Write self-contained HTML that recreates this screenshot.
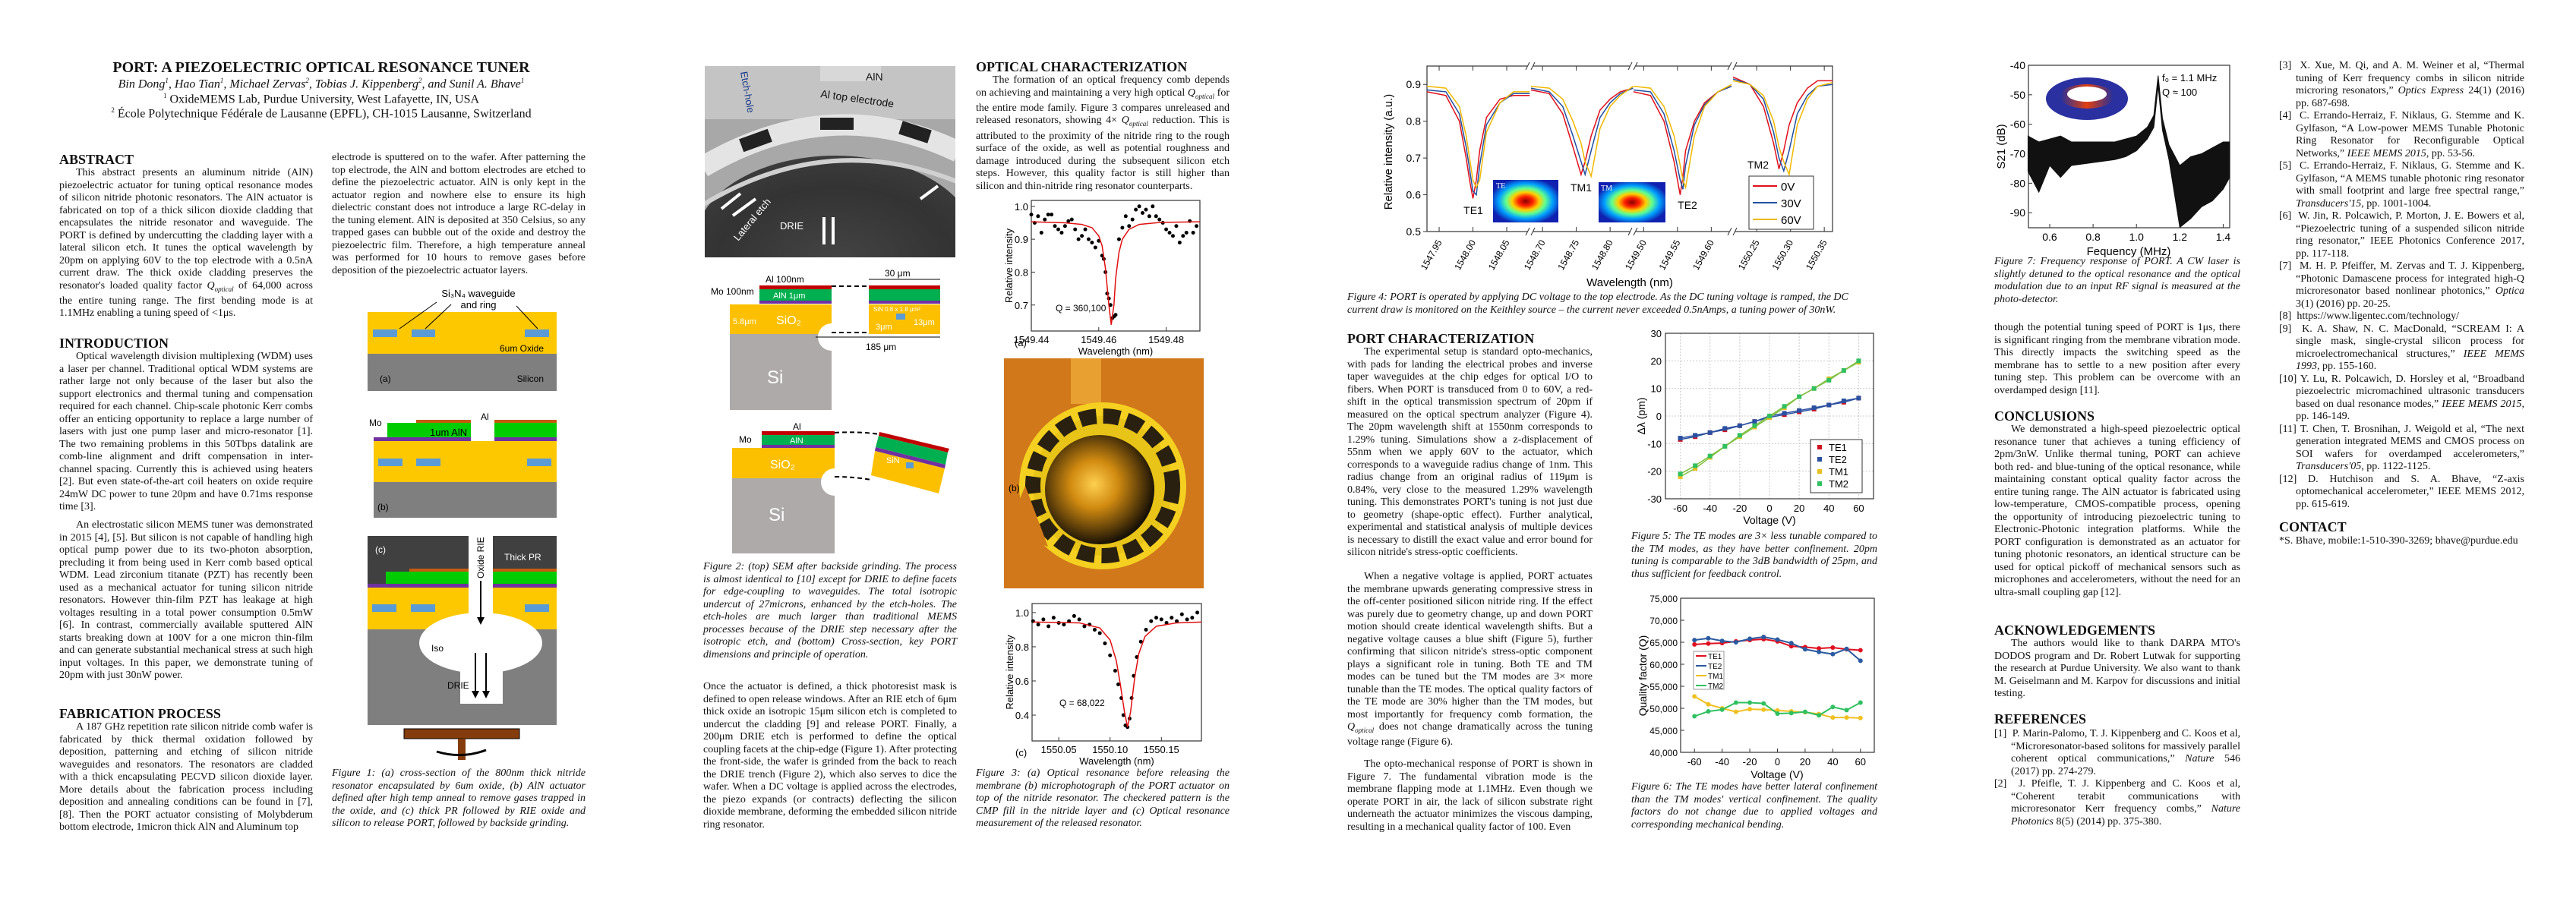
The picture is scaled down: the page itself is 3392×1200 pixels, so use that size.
<!DOCTYPE html>
<html><head><meta charset="utf-8">
<style>
html,body{margin:0;padding:0;background:#fff;}
body{width:3392px;height:1200px;position:relative;overflow:hidden;font-family:"Liberation Serif",serif;color:#111;}
.t{position:absolute;font-size:14px;line-height:16.5px;text-align:justify;}
.t p{margin:0;text-indent:22px;}
.t p.ref{margin:0;padding-left:22px;text-indent:-22px;}
.h{position:absolute;font-size:18px;font-weight:bold;line-height:20px;white-space:nowrap;}
.cap{position:absolute;font-size:14px;line-height:16.5px;font-style:italic;text-align:justify;}
svg{position:absolute;left:0;top:0;}
</style></head>
<body>
<div style="position:absolute;left:78px;width:690px;top:78px;text-align:center;font-size:20px;font-weight:bold;">PORT: A PIEZOELECTRIC OPTICAL RESONANCE TUNER</div>
<div style="position:absolute;left:78px;width:690px;top:101px;text-align:center;font-size:16px;font-style:italic;">Bin Dong<sup style="font-size:9px">1</sup>, Hao Tian<sup style="font-size:9px">1</sup>, Michael Zervas<sup style="font-size:9px">2</sup>, Tobias J. Kippenberg<sup style="font-size:9px">2</sup>, and Sunil A. Bhave<sup style="font-size:9px">1</sup></div>
<div style="position:absolute;left:78px;width:690px;top:121px;text-align:center;font-size:16px;"><sup style="font-size:9px">1</sup> OxideMEMS Lab, Purdue University, West Lafayette, IN, USA</div>
<div style="position:absolute;left:78px;width:690px;top:140px;text-align:center;font-size:16px;"><sup style="font-size:9px">2</sup> École Polytechnique Fédérale de Lausanne (EPFL), CH-1015 Lausanne, Switzerland</div>

<div class="h" style="left:78px;top:200px;">ABSTRACT</div>
<div class="t" style="left:78px;top:220px;width:334px;"><p>This abstract presents an aluminum nitride (AlN) piezoelectric actuator for tuning optical resonance modes of silicon nitride photonic resonators. The AlN actuator is fabricated on top of a thick silicon dioxide cladding that encapsulates the nitride resonator and waveguide. The PORT is defined by undercutting the cladding layer with a lateral silicon etch. It tunes the optical wavelength by 20pm on applying 60V to the top electrode with a 0.5nA current draw. The thick oxide cladding preserves the resonator's loaded quality factor <i>Q<sub style="font-size:9px">optical</sub></i> of 64,000 across the entire tuning range. The first bending mode is at 1.1MHz enabling a tuning speed of &lt;1μs.</p></div>

<div class="h" style="left:78px;top:442px;">INTRODUCTION</div>
<div class="t" style="left:78px;top:462px;width:334px;"><p>Optical wavelength division multiplexing (WDM) uses a laser per channel. Traditional optical WDM systems are rather large not only because of the laser but also the support electronics and thermal tuning and compensation required for each channel. Chip-scale photonic Kerr combs offer an enticing opportunity to replace a large number of lasers with just one pump laser and micro-resonator [1]. The two remaining problems in this 50Tbps datalink are comb-line alignment and drift compensation in inter-channel spacing. Currently this is achieved using heaters [2]. But even state-of-the-art coil heaters on oxide require 24mW DC power to tune 20pm and have 0.71ms response time [3].</p></div>
<div class="t" style="left:78px;top:684px;width:334px;"><p>An electrostatic silicon MEMS tuner was demonstrated in 2015 [4], [5]. But silicon is not capable of handling high optical pump power due to its two-photon absorption, precluding it from being used in Kerr comb based optical WDM. Lead zirconium titanate (PZT) has recently been used as a mechanical actuator for tuning silicon nitride resonators. However thin-film PZT has leakage at high voltages resulting in a total power consumption 0.5mW [6]. In contrast, commercially available sputtered AlN starts breaking down at 100V for a one micron thin-film and can generate substantial mechanical stress at such high input voltages. In this paper, we demonstrate tuning of 20pm with just 30nW power.</p></div>
<div class="h" style="left:78px;top:930px;">FABRICATION PROCESS</div>
<div class="t" style="left:78px;top:950px;width:334px;"><p>A 187 GHz repetition rate silicon nitride comb wafer is fabricated by thick thermal oxidation followed by deposition, patterning and etching of silicon nitride waveguides and resonators. The resonators are cladded with a thick encapsulating PECVD silicon dioxide layer. More details about the fabrication process including deposition and annealing conditions can be found in [7], [8]. Then the PORT actuator consisting of Molybderum bottom electrode, 1micron thick AlN and Aluminum top</p></div>

<div class="t" style="left:437px;top:200px;width:334px;"><p style="text-indent:0">electrode is sputtered on to the wafer. After patterning the top electrode, the AlN and bottom electrodes are etched to define the piezoelectric actuator. AlN is only kept in the actuator region and nowhere else to ensure its high dielectric constant does not introduce a large RC-delay in the tuning element. AlN is deposited at 350 Celsius, so any trapped gases can bubble out of the oxide and destroy the piezoelectric film. Therefore, a high temperature anneal was performed for 10 hours to remove gases before deposition of the piezoelectric actuator layers.</p></div>
<div class="cap" style="left:437px;top:1011px;width:334px;">Figure 1: (a) cross-section of the 800nm thick nitride resonator encapsulated by 6um oxide, (b) AlN actuator defined after high temp anneal to remove gases trapped in the oxide, and (c) thick PR followed by RIE oxide and silicon to release PORT, followed by backside grinding.</div>

<div class="cap" style="left:926px;top:739px;width:334px;">Figure 2: (top) SEM after backside grinding. The process is almost identical to [10] except for DRIE to define facets for edge-coupling to waveguides. The total isotropic undercut of 27microns, enhanced by the etch-holes. The etch-holes are much larger than traditional MEMS processes because of the DRIE step necessary after the isotropic etch, and (bottom) Cross-section, key PORT dimensions and principle of operation.</div>
<div class="t" style="left:926px;top:897px;width:334px;"><p style="text-indent:0">Once the actuator is defined, a thick photoresist mask is defined to open release windows. After an RIE etch of 6μm thick oxide an isotropic 15μm silicon etch is completed to undercut the cladding [9] and release PORT. Finally, a 200μm DRIE etch is performed to define the optical coupling facets at the chip-edge (Figure 1). After protecting the front-side, the wafer is grinded from the back to reach the DRIE trench (Figure 2), which also serves to dice the wafer. When a DC voltage is applied across the electrodes, the piezo expands (or contracts) deflecting the silicon dioxide membrane, deforming the embedded silicon nitride ring resonator.</p></div>

<div class="h" style="left:1285px;top:78px;">OPTICAL CHARACTERIZATION</div>
<div class="t" style="left:1285px;top:98px;width:334px;"><p>The formation of an optical frequency comb depends on achieving and maintaining a very high optical <i>Q<sub style="font-size:9px">optical</sub></i> for the entire mode family. Figure 3 compares unreleased and released resonators, showing 4× <i>Q<sub style="font-size:9px">optical</sub></i> reduction. This is attributed to the proximity of the nitride ring to the rough surface of the oxide, as well as potential roughness and damage introduced during the subsequent silicon etch steps. However, this quality factor is still higher than silicon and thin-nitride ring resonator counterparts.</p></div>
<div class="cap" style="left:1285px;top:1011px;width:334px;">Figure 3: (a) Optical resonance before releasing the membrane (b) microphotograph of the PORT actuator on top of the nitride resonator. The checkered pattern is the CMP fill in the nitride layer and (c) Optical resonance measurement of the released resonator.</div>

<div class="cap" style="left:1774px;top:384px;width:700px;text-align:left;">Figure 4: PORT is operated by applying DC voltage to the top electrode. As the DC tuning voltage is ramped, the DC current draw is monitored on the Keithley source – the current never exceeded 0.5nAmps, a tuning power of 30nW.</div>
<div class="h" style="left:1774px;top:436px;">PORT CHARACTERIZATION</div>
<div class="t" style="left:1774px;top:456px;width:323px;"><p>The experimental setup is standard opto-mechanics, with pads for landing the electrical probes and inverse taper waveguides at the chip edges for optical I/O to fibers. When PORT is transduced from 0 to 60V, a red-shift in the optical transmission spectrum of 20pm if measured on the optical spectrum analyzer (Figure 4). The 20pm wavelength shift at 1550nm corresponds to 1.29% tuning. Simulations show a z-displacement of 55nm when we apply 60V to the actuator, which corresponds to a waveguide radius change of 1nm. This radius change from an original radius of 119μm is 0.84%, very close to the measured 1.29% wavelength tuning. This demonstrates PORT's tuning is not just due to geometry (shape-optic effect). Further analytical, experimental and statistical analysis of multiple devices is necessary to distill the exact value and error bound for silicon nitride's stress-optic coefficients.</p></div>
<div class="t" style="left:1774px;top:752px;width:323px;"><p>When a negative voltage is applied, PORT actuates the membrane upwards generating compressive stress in the off-center positioned silicon nitride ring. If the effect was purely due to geometry change, up and down PORT motion should create identical wavelength shifts. But a negative voltage causes a blue shift (Figure 5), further confirming that silicon nitride's stress-optic component plays a significant role in tuning. Both TE and TM modes can be tuned but the TM modes are 3× more tunable than the TE modes. The optical quality factors of the TE mode are 30% higher than the TM modes, but most importantly for frequency comb formation, the <i>Q<sub style="font-size:9px">optical</sub></i> does not change dramatically across the tuning voltage range (Figure 6).</p></div>
<div class="t" style="left:1774px;top:999px;width:323px;"><p>The opto-mechanical response of PORT is shown in Figure 7. The fundamental vibration mode is the membrane flapping mode at 1.1MHz. Even though we operate PORT in air, the lack of silicon substrate right underneath the actuator minimizes the viscous damping, resulting in a mechanical quality factor of 100. Even</p></div>
<div class="cap" style="left:2148px;top:699px;width:324px;">Figure 5: The TE modes are 3× less tunable compared to the TM modes, as they have better confinement. 20pm tuning is comparable to the 3dB bandwidth of 25pm, and thus sufficient for feedback control.</div>
<div class="cap" style="left:2148px;top:1029px;width:324px;">Figure 6: The TE modes have better lateral confinement than the TM modes' vertical confinement. The quality factors do not change due to applied voltages and corresponding mechanical bending.</div>

<div class="cap" style="left:2626px;top:337px;width:324px;">Figure 7: Frequency response of PORT. A CW laser is slightly detuned to the optical resonance and the optical modulation due to an input RF signal is measured at the photo-detector.</div>
<div class="t" style="left:2626px;top:424px;width:324px;"><p style="text-indent:0">though the potential tuning speed of PORT is 1μs, there is significant ringing from the membrane vibration mode. This directly impacts the switching speed as the membrane has to settle to a new position after every tuning step. This problem can be overcome with an overdamped design [11].</p></div>
<div class="h" style="left:2626px;top:538px;">CONCLUSIONS</div>
<div class="t" style="left:2626px;top:558px;width:324px;"><p>We demonstrated a high-speed piezoelectric optical resonance tuner that achieves a tuning efficiency of 2pm/3nW. Unlike thermal tuning, PORT can achieve both red- and blue-tuning of the optical resonance, while maintaining constant optical quality factor across the entire tuning range. The AlN actuator is fabricated using low-temperature, CMOS-compatible process, opening the opportunity of introducing piezoelectric tuning to Electronic-Photonic integration platforms. While the PORT configuration is demonstrated as an actuator for tuning photonic resonators, an identical structure can be used for optical pickoff of mechanical sensors such as microphones and accelerometers, without the need for an ultra-small coupling gap [12].</p></div>
<div class="h" style="left:2626px;top:820px;">ACKNOWLEDGEMENTS</div>
<div class="t" style="left:2626px;top:840px;width:324px;"><p>The authors would like to thank DARPA MTO's DODOS program and Dr. Robert Lutwak for supporting the research at Purdue University. We also want to thank M. Geiselmann and M. Karpov for discussions and initial testing.</p></div>
<div class="h" style="left:2626px;top:937px;">REFERENCES</div>
<div class="t" style="left:2626px;top:959px;width:324px;">
<p class="ref">[1]&nbsp; P. Marin-Palomo, T. J. Kippenberg and C. Koos et al, “Microresonator-based solitons for massively parallel coherent optical communications,” <i>Nature</i> 546 (2017) pp. 274-279.</p>
<p class="ref">[2]&nbsp; J. Pfeifle, T. J. Kippenberg and C. Koos et al, “Coherent terabit communications with microresonator Kerr frequency combs,” <i>Nature Photonics</i> 8(5) (2014) pp. 375-380.</p></div>
<div class="t" style="left:3001px;top:79px;width:323px;">
<p class="ref">[3]&nbsp; X. Xue, M. Qi, and A. M. Weiner et al, “Thermal tuning of Kerr frequency combs in silicon nitride microring resonators,” <i>Optics Express</i> 24(1) (2016) pp. 687-698.</p>
<p class="ref">[4]&nbsp; C. Errando-Herraiz, F. Niklaus, G. Stemme and K. Gylfason, “A Low-power MEMS Tunable Photonic Ring Resonator for Reconfigurable Optical Networks,” <i>IEEE MEMS 2015</i>, pp. 53-56.</p>
<p class="ref">[5]&nbsp; C. Errando-Herraiz, F. Niklaus, G. Stemme and K. Gylfason, “A MEMS tunable photonic ring resonator with small footprint and large free spectral range,” <i>Transducers'15</i>, pp. 1001-1004.</p>
<p class="ref">[6]&nbsp; W. Jin, R. Polcawich, P. Morton, J. E. Bowers et al, “Piezoelectric tuning of a suspended silicon nitride ring resonator,” IEEE Photonics Conference 2017, pp. 117-118.</p>
<p class="ref">[7]&nbsp; M. H. P. Pfeiffer, M. Zervas and T. J. Kippenberg, “Photonic Damascene process for integrated high-Q microresonator based nonlinear photonics,” <i>Optica</i> 3(1) (2016) pp. 20-25.</p>
<p class="ref">[8]&nbsp; https://www.ligentec.com/technology/</p>
<p class="ref">[9]&nbsp; K. A. Shaw, N. C. MacDonald, “SCREAM I: A single mask, single-crystal silicon process for microelectromechanical structures,” <i>IEEE MEMS 1993</i>, pp. 155-160.</p>
<p class="ref">[10] Y. Lu, R. Polcawich, D. Horsley et al, “Broadband piezoelectric micromachined ultrasonic transducers based on dual resonance modes,” <i>IEEE MEMS 2015</i>, pp. 146-149.</p>
<p class="ref">[11] T. Chen, T. Brosnihan, J. Weigold et al, “The next generation integrated MEMS and CMOS process on SOI wafers for overdamped accelerometers,” <i>Transducers'05</i>, pp. 1122-1125.</p>
<p class="ref">[12] D. Hutchison and S. A. Bhave, “Z-axis optomechanical accelerometer,” IEEE MEMS 2012, pp. 615-619.</p></div>
<div class="h" style="left:3001px;top:684px;">CONTACT</div>
<div class="t" style="left:3001px;top:705px;width:330px;text-align:left;">*S. Bhave, mobile:1-510-390-3269; bhave@purdue.edu</div>

<svg id="fig" width="3392" height="1200" xmlns="http://www.w3.org/2000/svg" font-family="Liberation Sans, sans-serif">
<defs>
<radialGradient id="jet" cx="50%" cy="50%" r="55%"><stop offset="0" stop-color="#8b0000"/><stop offset="0.2" stop-color="#ff2000"/><stop offset="0.38" stop-color="#ffd000"/><stop offset="0.55" stop-color="#60ff90"/><stop offset="0.75" stop-color="#00a0ff"/><stop offset="1" stop-color="#1020b0"/></radialGradient>
<radialGradient id="sem" cx="50%" cy="60%" r="60%"><stop offset="0" stop-color="#444"/><stop offset="0.7" stop-color="#333"/><stop offset="1" stop-color="#3c3c3c"/></radialGradient>
<radialGradient id="glow" cx="45%" cy="45%" r="55%"><stop offset="0" stop-color="#ffd050"/><stop offset="0.4" stop-color="#d08a10"/><stop offset="1" stop-color="#1a1205"/></radialGradient>
<linearGradient id="ringg" x1="0" x2="1"><stop offset="0" stop-color="#2030a0"/><stop offset="0.5" stop-color="#e04010"/><stop offset="1" stop-color="#2030a0"/></linearGradient>
<clipPath id="semclip"><rect x="928" y="87" width="330" height="252"/></clipPath>
</defs>

<g>
<rect x="484" y="411" width="249" height="55" fill="#fdc800"/><rect x="484" y="466" width="249" height="49" fill="#7f7f7f"/>
<rect x="491" y="434" width="32" height="10" fill="#5b9bd5"/><rect x="542" y="434" width="31" height="10" fill="#5b9bd5"/><rect x="691" y="434" width="32" height="10" fill="#5b9bd5"/>
<line x1="575" y1="398" x2="526" y2="433" stroke="#000"/><line x1="594" y1="401" x2="560" y2="433" stroke="#000"/><line x1="680" y1="403" x2="708" y2="433" stroke="#000"/>
<text x="630" y="391" font-size="13" text-anchor="middle">Si₃N₄ waveguide</text><text x="630" y="406" font-size="13" text-anchor="middle">and ring</text>
<text x="716" y="463" font-size="12" text-anchor="end">6um Oxide</text><text x="716" y="503" font-size="12" text-anchor="end">Silicon</text><text x="500" y="503" font-size="12">(a)</text>
</g>
<g>
<rect x="548" y="553" width="72" height="4" fill="#c55a11"/><rect x="651" y="553" width="82" height="4" fill="#c55a11"/>
<rect x="510" y="557" width="110" height="19" fill="#00cc00"/><rect x="651" y="557" width="82" height="19" fill="#00cc00"/>
<rect x="492" y="576" width="128" height="5" fill="#7030a0"/><rect x="651" y="576" width="82" height="5" fill="#7030a0"/>
<rect x="492" y="581" width="241" height="54" fill="#fdc800"/><rect x="492" y="635" width="241" height="47" fill="#7f7f7f"/>
<rect x="498" y="604" width="32" height="10" fill="#5b9bd5"/><rect x="548" y="604" width="32" height="10" fill="#5b9bd5"/><rect x="694" y="604" width="32" height="10" fill="#5b9bd5"/>
<text x="486" y="561" font-size="12">Mo</text><text x="566" y="574" font-size="13">1um AlN</text><text x="633" y="553" font-size="12">Al</text><text x="497" y="672" font-size="12">(b)</text>
</g>
<g>
<rect x="484" y="706" width="133" height="64" fill="#404040"/><rect x="649" y="706" width="84" height="64" fill="#404040"/>
<rect x="539" y="749" width="78" height="4" fill="#c55a11"/><rect x="649" y="749" width="84" height="4" fill="#c55a11"/>
<rect x="508" y="753" width="109" height="16" fill="#00cc00"/><rect x="649" y="753" width="84" height="16" fill="#00cc00"/>
<rect x="484" y="769" width="133" height="5" fill="#7030a0"/><rect x="649" y="769" width="84" height="5" fill="#7030a0"/>
<rect x="484" y="774" width="133" height="55" fill="#fdc800"/><rect x="649" y="774" width="84" height="55" fill="#fdc800"/>
<rect x="484" y="829" width="249" height="126" fill="#7f7f7f"/>
<ellipse cx="633" cy="847" rx="81" ry="40" fill="#fff"/><rect x="606" y="847" width="56" height="80" fill="#fff"/>
<rect x="490" y="796" width="32" height="10" fill="#5b9bd5"/><rect x="541" y="796" width="32" height="10" fill="#5b9bd5"/><rect x="691" y="796" width="32" height="10" fill="#5b9bd5"/>
<line x1="633" y1="765" x2="633" y2="815" stroke="#000" stroke-width="2"/><polygon points="628,813 638,813 633,823" fill="#000"/>
<line x1="626" y1="860" x2="626" y2="912" stroke="#000" stroke-width="2"/><line x1="640" y1="860" x2="640" y2="912" stroke="#000" stroke-width="2"/>
<polygon points="621,910 631,910 626,920" fill="#000"/><polygon points="635,910 645,910 640,920" fill="#000"/>
<text x="637" y="762" font-size="12" transform="rotate(-90 637 762)">Oxide RIE</text><text x="664" y="738" font-size="12" fill="#fff">Thick PR</text>
<text x="494" y="728" font-size="12" fill="#fff">(c)</text><text x="568" y="858" font-size="12">Iso</text><text x="589" y="907" font-size="12">DRIE</text>
<rect x="532" y="960" width="152" height="13" fill="#843c0c" stroke="#000"/><rect x="603" y="973" width="10" height="28" fill="#843c0c"/>
<path d="M575 990 Q608 1000 640 988" fill="none" stroke="#000" stroke-width="3"/>
</g>
<g clip-path="url(#semclip)">
<rect x="928" y="87" width="330" height="252" fill="#a8a8a8"/>
<rect x="928" y="87" width="330" height="70" fill="#c4c4c4"/>
<rect x="1080" y="87" width="80" height="20" fill="#d8d8d8"/>
<ellipse cx="1100" cy="320" rx="185" ry="115" fill="url(#sem)"/>
<path d="M925 220 Q1095 120 1262 200" fill="none" stroke="#e4e4e4" stroke-width="28"/>
<path d="M925 270 Q1090 170 1262 240" fill="none" stroke="#d0d0d0" stroke-width="6"/>
<g fill="#222"><rect x="975" y="176" width="40" height="18" transform="rotate(-20 995 185)"/><rect x="1080" y="155" width="44" height="16"/><rect x="1185" y="165" width="40" height="18" transform="rotate(18 1205 174)"/></g>
<text x="1140" y="106" font-size="14" fill="#111">AlN</text><text x="1080" y="128" font-size="14" fill="#111" transform="rotate(8 1080 128)">Al top electrode</text>
<text x="975" y="95" font-size="13" fill="#1a3a8a" transform="rotate(80 975 95)">Etch-hole</text>
<text x="972" y="318" font-size="13" fill="#fff" transform="rotate(-50 972 318)">Lateral etch</text><text x="1027" y="302" font-size="13" fill="#fff">DRIE</text>
<path d="M1085 286 V322 M1097 286 V322" stroke="#fff" stroke-width="4"/><path d="M1212 262 L1235 245" stroke="#fff" stroke-width="4"/>
<path d="M950 275 L975 255 M965 284 L995 262" stroke="#fff" stroke-width="4"/>
</g>
<g>
<rect x="1000" y="376" width="95" height="5" fill="#c00000"/><rect x="1000" y="381" width="95" height="15" fill="#00b050"/><rect x="1000" y="396" width="95" height="4" fill="#7030a0"/>
<rect x="1144" y="376" width="94" height="5" fill="#c00000"/><rect x="1144" y="381" width="94" height="15" fill="#00b050"/><rect x="1144" y="396" width="94" height="4" fill="#7030a0"/>
<rect x="961" y="401" width="134" height="39" fill="#fdc000"/><rect x="1144" y="401" width="94" height="39" fill="#fdc000"/>
<rect x="961" y="440" width="134" height="100" fill="#aeaaaa"/><circle cx="1095" cy="444" r="18" fill="#fff"/>
<rect x="1180" y="413" width="12" height="8" fill="#5b9bd5"/>
<path d="M1095 377 H1144 M1095 438 H1144" stroke="#000" stroke-width="2" stroke-dasharray="6,4"/>
<path d="M1074 444 H1238 M1144 368 H1238" stroke="#000"/>
<text x="1008" y="372" font-size="12">Al 100nm</text><text x="936" y="388" font-size="12">Mo 100nm</text><text x="1018" y="393" font-size="11" fill="#fff">AlN 1μm</text>
<text x="1165" y="364" font-size="12">30 μm</text><text x="1022" y="427" font-size="16" fill="#fff">SiO₂</text><text x="965" y="427" font-size="11" fill="#fff">5.8μm</text>
<text x="1150" y="410" font-size="8" fill="#fff">SiN 0.8 x 1.8 μm²</text><text x="1153" y="434" font-size="11" fill="#fff">3μm</text><text x="1203" y="428" font-size="11" fill="#fff">13μm</text>
<text x="1140" y="461" font-size="12">185 μm</text><text x="1010" y="505" font-size="24" fill="#fff">Si</text>
</g>
<g>
<rect x="1003" y="568" width="96" height="5" fill="#c00000"/><rect x="1003" y="573" width="96" height="13" fill="#00b050"/><rect x="1003" y="586" width="96" height="4" fill="#7030a0"/>
<rect x="964" y="590" width="135" height="40" fill="#fdc000"/><rect x="964" y="630" width="135" height="99" fill="#aeaaaa"/><circle cx="1099" cy="635" r="18" fill="#fff"/>
<polygon points="1158,569 1250,591 1248,596 1157,574" fill="#c00000"/><polygon points="1157,574 1248,596 1245,612 1153,589" fill="#00b050"/>
<polygon points="1153,589 1245,612 1244,617 1152,594" fill="#7030a0"/><polygon points="1152,594 1244,617 1236,650 1147,626" fill="#fdc000"/>
<rect x="1193" y="609" width="10" height="8" fill="#5b9bd5"/>
<path d="M1099 570 Q1130 568 1158 572 M1099 628 Q1125 628 1147 632" stroke="#000" stroke-width="2" fill="none" stroke-dasharray="6,4"/>
<text x="1044" y="566" font-size="12">Al</text><text x="973" y="583" font-size="12">Mo</text><text x="1040" y="584" font-size="11" fill="#fff">AlN</text>
<text x="1014" y="617" font-size="16" fill="#fff">SiO₂</text><text x="1167" y="610" font-size="11" fill="#fff">SiN</text><text x="1012" y="686" font-size="24" fill="#fff">Si</text>
</g>
<g>
<rect x="1322" y="472" width="263" height="303" fill="#d0781a"/>
<rect x="1410" y="472" width="40" height="60" fill="#e8a030"/>
<circle cx="1452" cy="640" r="110" fill="#f5d020"/>
<circle cx="1452" cy="640" r="92" fill="#e8c418" stroke="#2a2010" stroke-width="20" stroke-dasharray="22,9"/>
<circle cx="1448" cy="645" r="72" fill="url(#glow)"/>
<polygon points="1325,700 1350,640 1380,720" fill="#d0781a"/>
<text x="1328" y="647" font-size="12">(b)</text>
</g>
<g>
<rect x="1966" y="237" width="86" height="56" fill="url(#jet)"/><rect x="2105" y="240" width="88" height="53" fill="url(#jet)"/>
<text x="1970" y="248" font-size="10" fill="#fff" font-family="Liberation Serif">TE</text><text x="2108" y="251" font-size="10" fill="#fff" font-family="Liberation Serif">TM</text>
</g>
<g>
<ellipse cx="2748" cy="130" rx="54" ry="28" fill="#2a30a0"/><ellipse cx="2748" cy="127" rx="36" ry="16" fill="url(#ringg)"/><ellipse cx="2748" cy="124" rx="26" ry="10" fill="#fff"/>
</g>
<g id="charts"></g>
</svg>

<script>
// ===== Figure 4 data =====
const f4Seg1Wl=[1547.932,1547.96,1547.98,1547.99,1547.995,1548.0,1548.005,1548.01,1548.02,1548.04,1548.06,1548.084];
const f4Seg1_0V=[.880,.870,.800,.700,.640,.590,.640,.720,.810,.860,.870,.870];
const f4Seg1_30V=[.885,.880,.820,.730,.670,.610,.600,.680,.790,.850,.875,.875];
const f4Seg1_60V=[.895,.890,.840,.760,.700,.640,.620,.640,.770,.850,.880,.880];
const f4Seg2Wl=[1548.683,1548.71,1548.73,1548.745,1548.757,1548.763,1548.772,1548.785,1548.80,1548.815,1548.834];
const f4Seg2_0V=[.885,.875,.820,.730,.655,.690,.760,.830,.860,.880,.890];
const f4Seg2_30V=[.890,.880,.840,.760,.690,.655,.720,.810,.850,.875,.890];
const f4Seg2_60V=[.895,.890,.860,.800,.740,.690,.650,.780,.840,.870,.895];
const f4Seg3Wl=[1549.485,1549.51,1549.53,1549.545,1549.554,1549.558,1549.562,1549.575,1549.59,1549.61,1549.63];
const f4Seg3_0V=[.880,.870,.800,.690,.600,.650,.720,.800,.850,.880,.895];
const f4Seg3_30V=[.885,.880,.820,.720,.640,.615,.680,.790,.845,.880,.895];
const f4Seg3_60V=[.895,.890,.840,.760,.680,.640,.620,.760,.840,.880,.900];
const f4Seg4Wl=[1550.215,1550.24,1550.26,1550.275,1550.283,1550.29,1550.298,1550.31,1550.325,1550.34,1550.362];
const f4Seg4_0V=[.920,.900,.840,.740,.670,.720,.790,.850,.890,.910,.910];
const f4Seg4_30V=[.915,.900,.860,.770,.700,.665,.720,.820,.870,.895,.900];
const f4Seg4_60V=[.910,.900,.870,.800,.730,.690,.655,.790,.860,.895,.905];
const f4SegStart=[1547.932,1548.683,1549.485,1550.215];
const f4SegEnd=[1548.084,1548.834,1549.63,1550.362];
const f4Ticks=[1547.95,1548.00,1548.05,1548.70,1548.75,1548.80,1549.50,1549.55,1549.60,1550.25,1550.30,1550.35];
const f4TickLabels=["1547.95","1548.00","1548.05","1548.70","1548.75","1548.80","1549.50","1549.55","1549.60","1550.25","1550.30","1550.35"];
const f4YTicks=[0.5,0.6,0.7,0.8,0.9];
const f4Legend=["0V","30V","60V"];
// ===== Figure 5 data =====
const voltages=[-60,-50,-40,-30,-20,-10,0,10,20,30,40,50,60];
const f5TE1=[-8.5,-7.5,-6,-5,-3.5,-2,-0.5,0.5,1.5,2.5,4,5,6.5];
const f5TE2=[-8,-7,-6,-4.5,-3.5,-2,0,1,2,3,4,5.5,6.5];
const f5TM1=[-22,-19,-15,-11,-7.5,-4,-0.5,3,7,10,13.5,16.5,19.5];
const f5TM2=[-21,-18,-14.5,-11,-7,-3.5,0,3.5,7,10,13,16.5,20];
const f5YTicks=[-30,-20,-10,0,10,20,30];
const vTicks=[-60,-40,-20,0,20,40,60];
// ===== Figure 6 data =====
const f6TE1=[64500,64700,64800,65200,65500,65700,65200,64100,63900,63600,63800,63400,63200];
const f6TE2=[65500,65900,65300,65000,65800,66200,65600,64800,63400,62800,62300,63500,60800];
const f6TM1=[52700,50900,50000,49200,49800,49700,49500,49300,49100,48700,47900,47900,47800];
const f6TM2=[48200,49300,49700,51300,51300,51100,48800,48900,49200,48400,50300,49600,51300];
const f6YTicks=[40000,45000,50000,55000,60000,65000,70000,75000];
const f6YLabels=["40,000","45,000","50,000","55,000","60,000","65,000","70,000","75,000"];
// ===== Figure 3 data =====
const f3aWl=[1549.440,1549.441,1549.442,1549.443,1549.444,1549.445,1549.446,1549.447,1549.448,1549.449,1549.450,1549.451,1549.452,1549.453,1549.454,1549.455,1549.456,1549.457,1549.458,1549.459,1549.460,1549.461,1549.4615,1549.462,1549.4625,1549.463,1549.4635,1549.464,1549.4645,1549.465,1549.466,1549.467,1549.468,1549.469,1549.470,1549.471,1549.472,1549.473,1549.474,1549.475,1549.476,1549.477,1549.478,1549.479,1549.480,1549.481,1549.482,1549.483,1549.484,1549.485,1549.486,1549.487,1549.488,1549.489];
const f3aVal=[.975,.95,.97,.92,.96,.975,.975,.94,.93,.92,.94,.955,.96,.93,.90,.91,.93,.90,.89,.875,.895,.85,.84,.80,.735,.72,.70,.66,.665,.67,.90,.935,.97,.94,.96,.99,1.0,.98,.99,.97,1.0,.97,.96,.95,.93,.92,.91,.94,.89,.91,.92,.955,.92,.94];
const f3aFitWl=[1549.440,1549.450,1549.455,1549.458,1549.460,1549.461,1549.462,1549.463,1549.4637,1549.4645,1549.465,1549.466,1549.467,1549.469,1549.472,1549.478,1549.490];
const f3aFitVal=[.953,.950,.945,.935,.91,.88,.81,.70,.64,.70,.78,.86,.90,.93,.945,.951,.953];
const f3cWl=[1550.025,1550.030,1550.035,1550.040,1550.045,1550.050,1550.055,1550.060,1550.065,1550.070,1550.075,1550.080,1550.085,1550.090,1550.095,1550.100,1550.105,1550.108,1550.111,1550.113,1550.115,1550.117,1550.119,1550.121,1550.123,1550.126,1550.130,1550.135,1550.140,1550.145,1550.150,1550.155,1550.160,1550.165,1550.170,1550.175,1550.180,1550.185];
const f3cVal=[.95,.93,.96,.92,.97,.94,.93,.95,.98,.96,.92,.93,.90,.88,.82,.75,.66,.58,.50,.40,.34,.33,.38,.50,.63,.74,.83,.90,.95,.97,.96,.94,.97,.95,.99,.96,.97,1.0];
const f3cFitWl=[1550.025,1550.070,1550.090,1550.100,1550.106,1550.110,1550.114,1550.117,1550.120,1550.124,1550.128,1550.134,1550.145,1550.165,1550.189];
const f3cFitVal=[.945,.94,.91,.84,.72,.58,.42,.33,.42,.62,.76,.86,.92,.94,.945];
// ===== Figure 7 data =====
const f7Freq=[0.5,0.55,0.6,0.65,0.7,0.8,0.9,0.95,1.0,1.05,1.08,1.1,1.12,1.15,1.2,1.25,1.3,1.35,1.4,1.43];
const f7Upper=[-64,-66,-65,-64,-66,-66,-66,-65,-64,-61,-57,-43.5,-58,-67,-74,-71,-70,-68,-66,-66];
const f7Lower=[-76,-83,-74,-78,-74,-73,-72,-71,-69,-65,-61,-47,-62,-72,-95,-92,-88,-86,-82,-78];
const f7XTicks=[0.6,0.8,1.0,1.2,1.4];
const f7YTicks=[-40,-50,-60,-70,-80,-90];

const NS="http://www.w3.org/2000/svg";
const root=document.getElementById('charts');
function mk(tag,attrs,parent){const e=document.createElementNS(NS,tag);for(const k in attrs)e.setAttribute(k,attrs[k]);(parent||root).appendChild(e);return e;}
function txt(x,y,s,size,anchor,parent,extra){const e=mk('text',Object.assign({x:x,y:y,'font-size':size,'text-anchor':anchor||'middle'},extra||{}),parent);e.textContent=s;return e;}
function lin(d0,d1,p0,p1){return v=>p0+(v-d0)*(p1-p0)/(d1-d0);}
function frame(g,x0,y0,x1,y1){mk('rect',{x:x0,y:y0,width:x1-x0,height:y1-y0,fill:'none',stroke:'#333','stroke-width':1.2},g);}

(function(){
const g=mk('g',{});


const X0=1879,X1=2413,Y0=87,Y1=305,PX=890;
const pxStart=[1879,2016,2151,2282];
const xs=(seg,w)=>pxStart[seg]+(w-f4SegStart[seg])*PX;
const y=lin(0.5,0.95,Y1,Y0);
frame(g,X0,Y0,X1,Y1);
f4YTicks.forEach(v=>{mk('line',{x1:X0,x2:X0-5,y1:y(v),y2:y(v),stroke:'#333'},g);txt(X0-8,y(v)+5,v.toFixed(1),14,'end',g);});
f4Ticks.forEach((w,i)=>{let s=0;for(let k=0;k<4;k++){if(w>=f4SegStart[k]&&w<=f4SegEnd[k])s=k;}const px=xs(s,w);
 mk('line',{x1:px,x2:px,y1:Y1,y2:Y1-6,stroke:'#333'},g);mk('line',{x1:px,x2:px,y1:Y0,y2:Y0+6,stroke:'#333'},g);
 txt(px+4,Y1+14,f4TickLabels[i],12,'end',g,{transform:`rotate(-60 ${px+4} ${Y1+14})`});});
[2015,2150,2281].forEach(bx=>{[Y0,Y1].forEach(yy=>{mk('rect',{x:bx-4,y:yy-4,width:8,height:8,fill:'#fff'},g);mk('path',{d:`M${bx-6} ${yy+5} L${bx-1} ${yy-5} M${bx+1} ${yy+5} L${bx+6} ${yy-5}`,stroke:'#333'},g);});});
const wls=[f4Seg1Wl,f4Seg2Wl,f4Seg3Wl,f4Seg4Wl];
const series=[[f4Seg1_0V,f4Seg2_0V,f4Seg3_0V,f4Seg4_0V],[f4Seg1_30V,f4Seg2_30V,f4Seg3_30V,f4Seg4_30V],[f4Seg1_60V,f4Seg2_60V,f4Seg3_60V,f4Seg4_60V]];
const cols=['#e0101a','#2050a0','#f0b800'];
series.forEach((ser,si)=>{ser.forEach((vals,seg)=>{const pts=vals.map((v,i)=>xs(seg,wls[seg][i]).toFixed(1)+','+y(v).toFixed(1)).join(' ');
 const p=mk('polyline',{points:pts,fill:'none',stroke:cols[si],'stroke-width':1.5},g);
 
 });});
txt(1833,200,'Relative intensity (a.u.)',15,'middle',g,{transform:'rotate(-90 1833 200)'});
txt(2146,377,'Wavelength (nm)',15,'middle',g);
txt(1940,282,'TE1',14,'middle',g);txt(2082,252,'TM1',14,'middle',g);txt(2222,275,'TE2',14,'middle',g);txt(2315,222,'TM2',14,'middle',g);
const lg=mk('g',{},g);


mk('rect',{x:2303,y:232,width:85,height:70,fill:'#fff',stroke:'#333'},lg);
f4Legend.forEach((n,i)=>{mk('line',{x1:2308,x2:2340,y1:245+i*22,y2:245+i*22,stroke:cols[i],'stroke-width':2},lg);txt(2345,251+i*22,n,15,'start',lg);});
})();

(function(){
const g=mk('g',{});


const X0=2193,X1=2467,Y0=439,Y1=657;
const x=lin(-70,70,X0,X1),y=lin(-30,30,Y1,Y0);
mk('rect',{x:X0,y:Y0,width:X1-X0,height:Y1-Y0,fill:'#fff'},g);
vTicks.forEach(v=>{mk('line',{x1:x(v),x2:x(v),y1:Y0,y2:Y1,stroke:'#ccc','stroke-dasharray':'2,2'},g);txt(x(v),Y1+17,String(v),13,'middle',g);});
f5YTicks.forEach(v=>{mk('line',{x1:X0,x2:X1,y1:y(v),y2:y(v),stroke:'#ccc','stroke-dasharray':'2,2'},g);txt(X0-5,y(v)+5,String(v),13,'end',g);});
frame(g,X0,Y0,X1,Y1);
const sers=[f5TE1,f5TE2,f5TM1,f5TM2],names=['TE1','TE2','TM1','TM2'],cols=['#d01020','#2a50a0','#e8c020','#30c060'];
sers.forEach((s,si)=>{const pts=s.map((v,i)=>x(voltages[i])+','+y(v)).join(' ');const p=mk('polyline',{points:pts,fill:'none',stroke:si<2?'#2a50a0':'#80c040','stroke-width':1.5},g);
 
 
 s.forEach((v,i)=>{const m=mk('rect',{x:x(voltages[i])-3,y:y(v)-3,width:6,height:6,fill:cols[si]},g);
  
  });});
txt(2166,548,'Δλ (pm)',14,'middle',g,{transform:'rotate(-90 2166 548)'});
txt(2330,690,'Voltage (V)',14,'middle',g);
mk('rect',{x:2384,y:579,width:68,height:70,fill:'#fff',stroke:'#333'},g);
names.forEach((n,i)=>{mk('rect',{x:2393,y:586+i*16,width:6,height:6,fill:cols[i]},g);txt(2408,594+i*16,n,13,'start',g);});
})();

(function(){
const g=mk('g',{});


const X0=2213,X1=2468,Y0=788,Y1=991;
const x=lin(-70,70,X0,X1),y=lin(40000,75000,Y1,Y0);
frame(g,X0,Y0,X1,Y1);
vTicks.forEach(v=>{mk('line',{x1:x(v),x2:x(v),y1:Y1,y2:Y1-5,stroke:'#333'},g);txt(x(v),Y1+17,String(v),13,'middle',g);});
f6YTicks.forEach((v,i)=>{mk('line',{x1:X0,x2:X0+5,y1:y(v),y2:y(v),stroke:'#333'},g);txt(X0-4,y(v)+5,f6YLabels[i],12,'end',g);});
const sers=[f6TE1,f6TE2,f6TM1,f6TM2],names=['TE1','TE2','TM1','TM2'],cols=['#e01020','#2a5aa0','#f0c020','#30c060'];
sers.forEach((s,si)=>{const pts=s.map((v,i)=>x(voltages[i])+','+y(v)).join(' ');const p=mk('polyline',{points:pts,fill:'none',stroke:cols[si],'stroke-width':2},g);
 
 
 s.forEach((v,i)=>{const m=mk('circle',{cx:x(voltages[i]),cy:y(v),r:3,fill:cols[si]},g);
  
  });});
txt(2168,890,'Quality factor (Q)',14,'middle',g,{transform:'rotate(-90 2168 890)'});
txt(2340,1025,'Voltage (V)',14,'middle',g);
mk('rect',{x:2230,y:858,width:40,height:50,fill:'#fff',stroke:'#999'},g);
names.forEach((n,i)=>{mk('line',{x1:2233,x2:2247,y1:864+i*13,y2:864+i*13,stroke:cols[i],'stroke-width':2},g);txt(2249,868+i*13,n,10,'start',g);});
})();

function resPlot(name,X0,X1,Y0,Y1,w0,w1,v0,v1,xt,xl,yt,yl,wl,val,fw,fv,q,tag){
const g=mk('g',{});


const x=lin(w0,w1,X0,X1),y=lin(v0,v1,Y1,Y0);
frame(g,X0,Y0,X1,Y1);
xt.forEach((v,i)=>{mk('line',{x1:x(v),x2:x(v),y1:Y1,y2:Y1-5,stroke:'#333'},g);txt(x(v),Y1+16,xl[i],13,'middle',g);});
yt.forEach((v,i)=>{mk('line',{x1:X0,x2:X0+5,y1:y(v),y2:y(v),stroke:'#333'},g);txt(X0-4,y(v)+5,yl[i],13,'end',g);});
wl.forEach((w,i)=>{const c=mk('circle',{cx:x(w),cy:y(val[i]),r:2.5,fill:'#000'},g);
 
 });
const f=mk('polyline',{points:fw.map((w,i)=>x(w)+','+y(fv[i])).join(' '),fill:'none',stroke:'#e01010','stroke-width':1.5},g);


txt(X0-25,(Y0+Y1)/2,'Relative intensity',13,'middle',g,{transform:`rotate(-90 ${X0-25} ${(Y0+Y1)/2})`});
txt((X0+X1)/2,Y1+31,'Wavelength (nm)',13,'middle',g);
txt(X0-22,Y1+20,tag,13,'start',g);
txt(q[0],q[1],q[2],12,'start',g);
}
resPlot('figure-3a-unreleased-resonance',1358,1580,264,436,1549.44,1549.490,0.621,1.018,[1549.44,1549.46,1549.48],["1549.44","1549.46","1549.48"],[0.7,0.8,0.9,1.0],["0.7","0.8","0.9","1.0"],f3aWl,f3aVal,f3aFitWl,f3aFitVal,[1390,410,'Q = 360,100'],'(a)');
resPlot('figure-3c-released-resonance',1359,1582,795,976,1550.024,1550.189,0.249,1.053,[1550.05,1550.10,1550.15],["1550.05","1550.10","1550.15"],[0.4,0.6,0.8,1.0],["0.4","0.6","0.8","1.0"],f3cWl,f3cVal,f3cFitWl,f3cFitVal,[1395,930,'Q = 68,022'],'(c)');

(function(){
const g=mk('g',{});


const X0=2671,X1=2936,Y0=86,Y1=300;
const x=lin(0.502,1.43,X0,X1),y=lin(-40,-95.1,Y0,Y1);
frame(g,X0,Y0,X1,Y1);
f7XTicks.forEach(v=>{mk('line',{x1:x(v),x2:x(v),y1:Y1,y2:Y1-5,stroke:'#333'},g);txt(x(v),Y1+17,v.toFixed(1),14,'middle',g);});
f7YTicks.forEach(v=>{mk('line',{x1:X0,x2:X0+5,y1:y(v),y2:y(v),stroke:'#333'},g);txt(X0-4,y(v)+5,String(v),14,'end',g);});
const up=f7Freq.map((f,i)=>x(f)+','+y(f7Upper[i]));const lo=f7Freq.map((f,i)=>x(f)+','+y(f7Lower[i])).reverse();
const band=mk('polygon',{points:up.concat(lo).join(' '),fill:'#111',stroke:'#111','stroke-width':1},g);


txt(2640,193,'S21 (dB)',15,'middle',g,{transform:'rotate(-90 2640 193)'});
txt(2803,336,'Fequency (MHz)',15,'middle',g);
txt(2847,107,'f₀ = 1.1 MHz',13,'start',g);txt(2847,126,'Q ≈ 100',13,'start',g);
})();
</script>
</body></html>
